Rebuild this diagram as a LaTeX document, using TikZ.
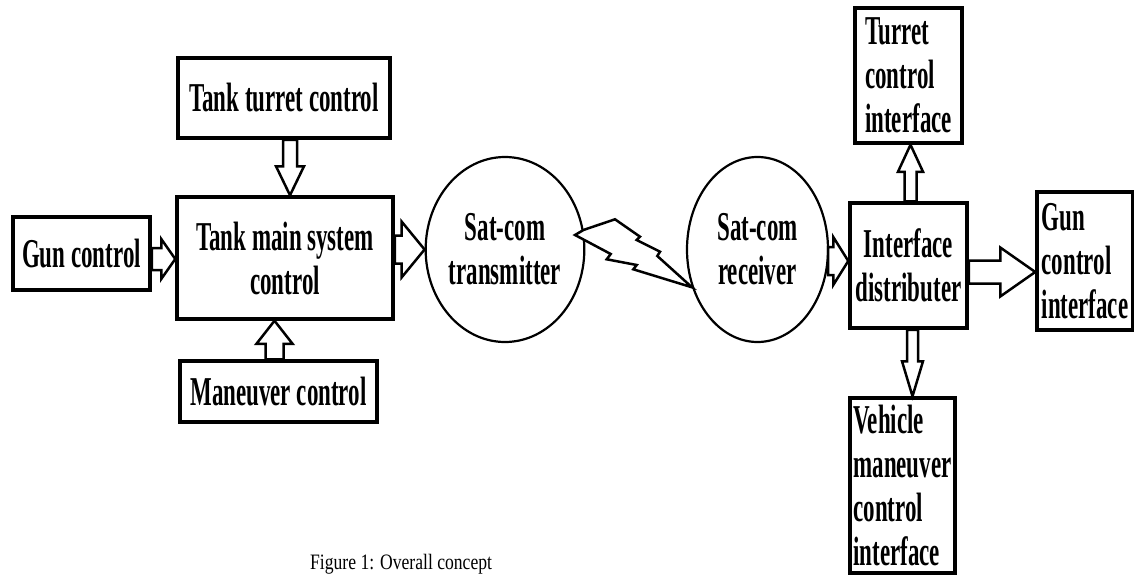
\documentclass[tikz,border=0pt]{standalone}
\usepackage{fontspec}
\newfontfamily\labfont{Liberation Serif}[FakeStretch=0.56]
\newfontfamily\capfont{Liberation Serif}[FakeStretch=0.8]
\usetikzlibrary{calc,shapes.geometric}
\tikzset{
  lab/.style={font={\labfont\bfseries\fontsize{41}{44}\selectfont}},
  box/.style={lab, draw, line width=3.5pt, rectangle, inner sep=0pt, align=center},
  lbox/.style={box, align=left},
  ell/.style={lab, draw, line width=2.2pt, ellipse, inner sep=0pt, align=center},
  barrowline/.style={line width=2.5pt, fill=white, line join=miter},
  bolt/.style={line width=2.5pt, fill=white, line join=miter},
}
\newcommand\barrow[5]{%
  \coordinate (bS) at (#1);
  \coordinate (bE) at (#2);
  \coordinate (bH) at ($(bE)!#5!(bS)$);
  \filldraw[barrowline] ($(bS)!#3!90:(bE)$) -- ($(bH)!#3!90:(bE)$) -- ($(bH)!#4!90:(bE)$) -- (bE)
     -- ($(bH)!#4!-90:(bE)$) -- ($(bH)!#3!-90:(bE)$) -- ($(bS)!#3!-90:(bE)$) -- cycle;
}
\begin{document}
\begin{tikzpicture}[x=1pt,y=-1pt]
\useasboundingbox (0,0) rectangle (1134,575);
\clip (0,0) rectangle (1134,575);
\fill[white] (0,0) rectangle (1134,575);

% left side
\node[box, minimum width=137pt, minimum height=73pt] (gun) at (81.5,253.5) {Gun control};
\node[box, minimum width=216pt, minimum height=122pt] (main) at (285,258) {Tank main system\\control};
\node[box, minimum width=212pt, minimum height=80pt] (tt) at (284,98) {Tank turret control};
\node[box, minimum width=197pt, minimum height=61pt] (man) at (278.5,391.5) {Maneuver control};

% sat-com
\node[ell, minimum width=140pt, minimum height=185pt] (tx) at (505,249.5) {Sat-com\\transmitter};
\node[ell, minimum width=141pt, minimum height=185pt] (rx) at (757.5,249.5) {Sat-com\\receiver};

% right side
\node[lbox, minimum width=107pt, minimum height=135pt] (tci) at (908.5,75.5) {Turret\\control\\interface};
\node[box, minimum width=117pt, minimum height=125pt] (dist) at (908.5,265.5) {Interface\\distributer};
\node[lbox, minimum width=96pt, minimum height=138pt] (gci) at (1085,261) {Gun\\control\\interface};
\node[lbox, minimum width=105pt, minimum height=175pt] (veh) at (902.5,485.5) {Vehicle\\maneuver\\control\\interface};

% caption
\node[anchor=base west, inner sep=0pt, font={\capfont\fontsize{22}{24}\selectfont}] (cap) at (310,569) {Figure 1: Overall concept};

% block arrows
\coordinate (a1s) at ($(gun.east)+(0,5.5)$);
\barrow{a1s}{main.west |- a1s}{11pt}{20pt}{14pt}
\coordinate (a2s) at (main.east |- tx.west);
\barrow{a2s}{tx.west}{14pt}{28pt}{23pt}
\coordinate (a3s) at ($(tt.south)+(6,0)$);
\barrow{a3s}{a3s |- main.north}{7pt}{14pt}{29pt}
\coordinate (a4s) at ($(man.north)+(-4,0)$);
\barrow{a4s}{a4s |- main.south}{9pt}{18pt}{23pt}
\coordinate (a5s) at ($(rx.east)+(-1,11.5)$);
\barrow{a5s}{dist.west |- a5s}{14pt}{24pt}{15pt}
\coordinate (a6s) at ($(dist.north)+(2,0)$);
\barrow{a6s}{a6s |- tci.south}{6pt}{12.5pt}{27pt}
\coordinate (a7s) at ($(dist.east)+(0,6.5)$);
\barrow{a7s}{gci.west |- a7s}{11.5pt}{24.5pt}{35pt}
\coordinate (a8s) at ($(dist.south)+(4,0)$);
\barrow{a8s}{a8s |- veh.north}{5.5pt}{10.5pt}{35pt}

% lightning bolt
\filldraw[bolt] (tx.14) -- (615,219.3) -- (640,236.7) -- (636.7,240) -- (660,251.7) -- (657.3,256)
  -- (rx.210) -- (633.3,269.3) -- (636.7,265) -- (606.7,259.3) -- (610.7,254) -- (575,235) -- cycle;
\end{tikzpicture}
\end{document}
